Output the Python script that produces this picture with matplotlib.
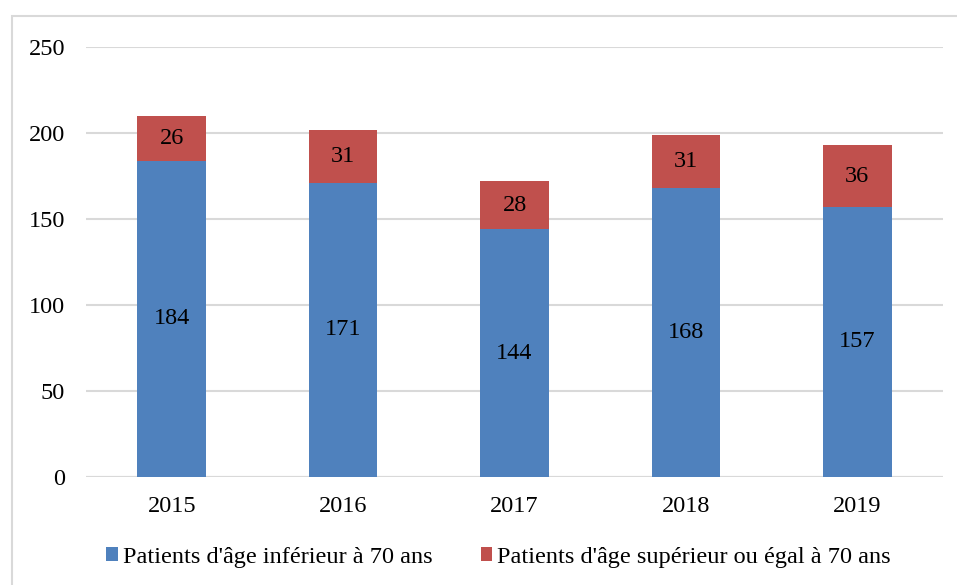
import matplotlib

matplotlib.use("Agg")
import matplotlib.pyplot as plt
import numpy as np
from matplotlib.patches import Rectangle

years = ["2015", "2016", "2017", "2018", "2019"]
under_70 = [184, 171, 144, 168, 157]
over_70 = [26, 31, 28, 31, 36]
label_under = "Patients d'âge inférieur à 70 ans"
label_over = "Patients d'âge supérieur ou égal à 70 ans"

BLUE = "#4F81BD"
RED = "#C0504D"
GRID = "#d9d9d9"
FS = 17.5

plt.rcParams["font.family"] = ["Liberation Serif", "DejaVu Serif"]

W, H = 957, 585
fig = plt.figure(figsize=(W / 100, H / 100), dpi=100)
ax = fig.add_axes([86 / W, (H - 477) / H, (943 - 86) / W, (477 - 47) / H])

# outer chart border (right and bottom edges fall outside the image)
fig.patches.append(
    Rectangle((12 / W, -10 / H), (W + 10) / W, (H - 6) / H,
              transform=fig.transFigure, fill=False, edgecolor=GRID, linewidth=1.5)
)

x = np.arange(len(years))
width = 0.4
ax.bar(x, under_70, width, color=BLUE, label=label_under, zorder=3)
ax.bar(x, over_70, width, bottom=under_70, color=RED, label=label_over, zorder=3)

for xi, u, o in zip(x, under_70, over_70):
    ax.text(xi, u / 2, str(u), ha="center", va="center", fontsize=FS, zorder=4)
    ax.text(xi, u + o / 2, str(o), ha="center", va="center", fontsize=FS, zorder=4)

ax.set_xlim(-0.5, len(years) - 0.5)
ax.set_ylim(0, 250)
ax.set_yticks(np.arange(0, 251, 50))
ax.set_xticks(x, years)
ax.grid(True, axis="y", color=GRID, linewidth=1.5, zorder=0)
for side in ("top", "right", "left", "bottom"):
    ax.spines[side].set_visible(False)
ax.axhline(0, color=GRID, linewidth=1.5, zorder=2)
ax.tick_params(axis="both", length=0, labelsize=FS)
ax.tick_params(axis="y", pad=15)
ax.tick_params(axis="x", pad=14)

fig.legend(
    loc="center",
    bbox_to_anchor=((W / 2 + 20) / W, (H - 557) / H),
    ncol=2,
    frameon=False,
    fontsize=FS,
    handlelength=0.48,
    handleheight=0.48,
    handletextpad=0.2,
    columnspacing=2.0,
)

fig.savefig("out.png", dpi=100)
